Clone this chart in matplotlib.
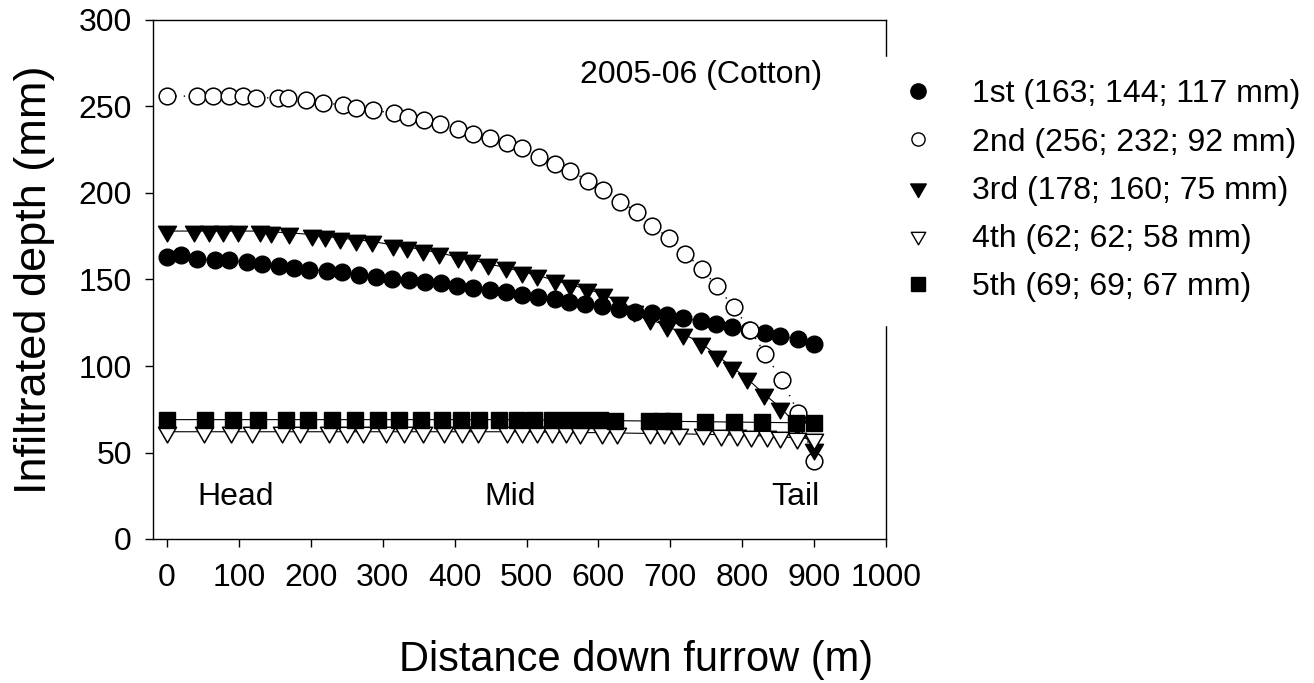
import matplotlib.pyplot as plt
from matplotlib.lines import Line2D
from matplotlib.path import Path

plt.rcParams['font.family'] = ['Liberation Sans', 'DejaVu Sans']

# distance down furrow (m) and infiltrated depth (mm) for each irrigation
x1 = [0, 19, 42, 66, 86, 111, 132, 155, 176, 198, 222, 244, 267, 290, 313, 337, 359, 381, 403, 426, 449,
      471, 493, 516, 539, 559, 582, 605, 628, 651, 675, 696, 718, 743, 763, 786, 810, 832, 853, 877, 900]
y1 = [163, 164, 162, 161, 161, 160, 159, 158, 156.5, 155.5, 155, 154.5, 152.5, 151.5, 150.5, 149.5, 148.5,
      148, 146, 145, 144, 143, 141, 140, 139, 137, 136, 134.5, 133, 131.5, 130.5, 129.5, 127.5, 126, 124.5,
      122.5, 121, 119, 117.5, 115.5, 113]

x2 = [0, 41, 64, 86, 106, 124, 154, 168, 193, 217, 245, 263, 287, 315, 335, 358, 379, 404, 426, 449,
      473, 494, 518, 540, 560, 586, 607, 630, 654, 675, 698, 721, 744, 765, 788, 811, 832, 855, 878, 900]
y2 = [256, 256, 256, 256, 256, 255, 255, 255, 254, 252, 251, 249, 248, 246, 244, 242, 240, 237, 234, 232,
      229, 226, 221, 217, 213, 207, 202, 195, 189, 181, 174, 165, 156, 146, 134, 121, 107, 92, 73, 45]

x3 = [0, 37, 58, 78, 98, 129, 145, 170, 201, 219, 240, 263, 285, 314, 334, 356, 378, 404, 423, 446,
      471, 493, 515, 539, 561, 584, 607, 628, 650, 672, 696, 718, 742, 765, 786, 806, 830, 853, 876, 900]
y3 = [178, 178, 178, 178, 178, 178, 177.5, 177, 176, 175, 174, 173, 172, 170, 169, 167, 165.5, 163, 161.5,
      159, 157, 154.5, 152.5, 149.5, 147, 144.5, 141.5, 137, 132, 127, 123, 118.5, 113.5, 106, 99.5, 93,
      84, 76, 66, 52]

x4 = [0, 52, 89, 118, 160, 185, 225, 250, 273, 305, 330, 356, 385, 410, 433, 473, 494, 515, 535, 555,
      575, 605, 626, 672, 691, 712, 746, 770, 793, 812, 834, 853, 876, 900]
y4 = [62, 62, 62, 62, 62, 62, 62, 62, 62, 62, 62, 62, 62, 62, 62, 62, 62, 61.8, 61.8, 61.6,
      61.5, 61.5, 61.3, 61, 61, 60.8, 60.5, 60.3, 60, 59.8, 59.5, 59, 58.5, 58]

x5 = [0, 53, 92, 126, 165, 196, 230, 262, 293, 322, 353, 382, 409, 434, 462, 487, 511, 536, 558, 580,
      602, 623, 670, 689, 704, 748, 788, 828, 875, 900]
y5 = [69, 69, 69, 69, 69, 69, 69, 69, 69, 69, 69, 69, 69, 69, 69, 69, 68.8, 68.8, 68.7, 68.6,
      68.5, 68.4, 68.2, 68, 68, 67.8, 67.6, 67.4, 67.2, 67]

labels = ['1st (163; 144; 117 mm)', '2nd (256; 232; 92 mm)', '3rd (178; 160; 75 mm)',
          '4th (62; 62; 58 mm)', '5th (69; 69; 67 mm)']

# triangle marker centred on its centroid, as in the original software
tri = Path([(-1, 0.577), (1, 0.577), (0, -1.155), (-1, 0.577)],
           [Path.MOVETO, Path.LINETO, Path.LINETO, Path.CLOSEPOLY])

fig = plt.figure(figsize=(13.14, 6.83), dpi=100)
ax = fig.add_axes([152.7 / 1314, 1 - 539 / 683, (886 - 152.7) / 1314, (539 - 20) / 683])

ax.plot(x1, y1, color='black', lw=0.8, marker='o', ms=12, mfc='black', mec='black')
ax.plot(x2, y2, color='black', lw=1.0, ls=(0, (1, 5)), marker='o', ms=12, mfc='white', mec='black', mew=1.1)
ax.plot(x3, y3, color='black', lw=0.8, marker=tri, ms=15, mfc='black', mec='black')
ax.plot(x4, y4, color='black', lw=0.8, marker=tri, ms=15, mfc='white', mec='black', mew=1.1)
ax.plot(x5, y5, color='black', lw=0.8, marker='s', ms=11.5, mfc='black', mec='black')

ax.set_xlim(-20, 1000)
ax.set_ylim(0, 300)
ax.set_xticks(range(0, 1001, 100))
ax.set_yticks(range(0, 301, 50))
ax.tick_params(direction='out', length=6, width=1, pad=9, labelsize=23)
ax.tick_params(axis='x', pad=11)
for s in ax.spines.values():
    s.set_linewidth(1)

ax.text(911, 268, '2005-06 (Cotton)', fontsize=23, ha='right', va='center')
ax.text(95, 24, 'Head', fontsize=23, ha='center', va='center')
ax.text(477, 24, 'Mid', fontsize=23, ha='center', va='center')
ax.text(874, 24, 'Tail', fontsize=23, ha='center', va='center')

fig.text(636 / 1314, 1 - 660 / 683, 'Distance down furrow (m)', fontsize=30, ha='center', va='center')
fig.text(35 / 1314, 1 - 280 / 683, 'Infiltrated depth (mm)', fontsize=32.5, ha='center', va='center',
         rotation=90)

handles = [
    Line2D([], [], ls='none', marker='o', ms=11, mfc='black', mec='black'),
    Line2D([], [], ls='none', marker='o', ms=9.5, mfc='white', mec='black', mew=1.0),
    Line2D([], [], ls='none', marker=tri, ms=13, mfc='black', mec='black'),
    Line2D([], [], ls='none', marker=tri, ms=12, mfc='white', mec='black', mew=1.0),
    Line2D([], [], ls='none', marker='s', ms=10, mfc='black', mec='black'),
]
leg = fig.legend(handles, labels, loc='upper left', bbox_to_anchor=(880 / 1314, 1 - 57 / 683),
                 borderaxespad=0, fontsize=23, handlelength=1.0, handletextpad=1.19,
                 labelspacing=0.57, borderpad=0.7, frameon=True, fancybox=False,
                 framealpha=1, facecolor='white', edgecolor='white')

fig.savefig('out.png', dpi=100)
